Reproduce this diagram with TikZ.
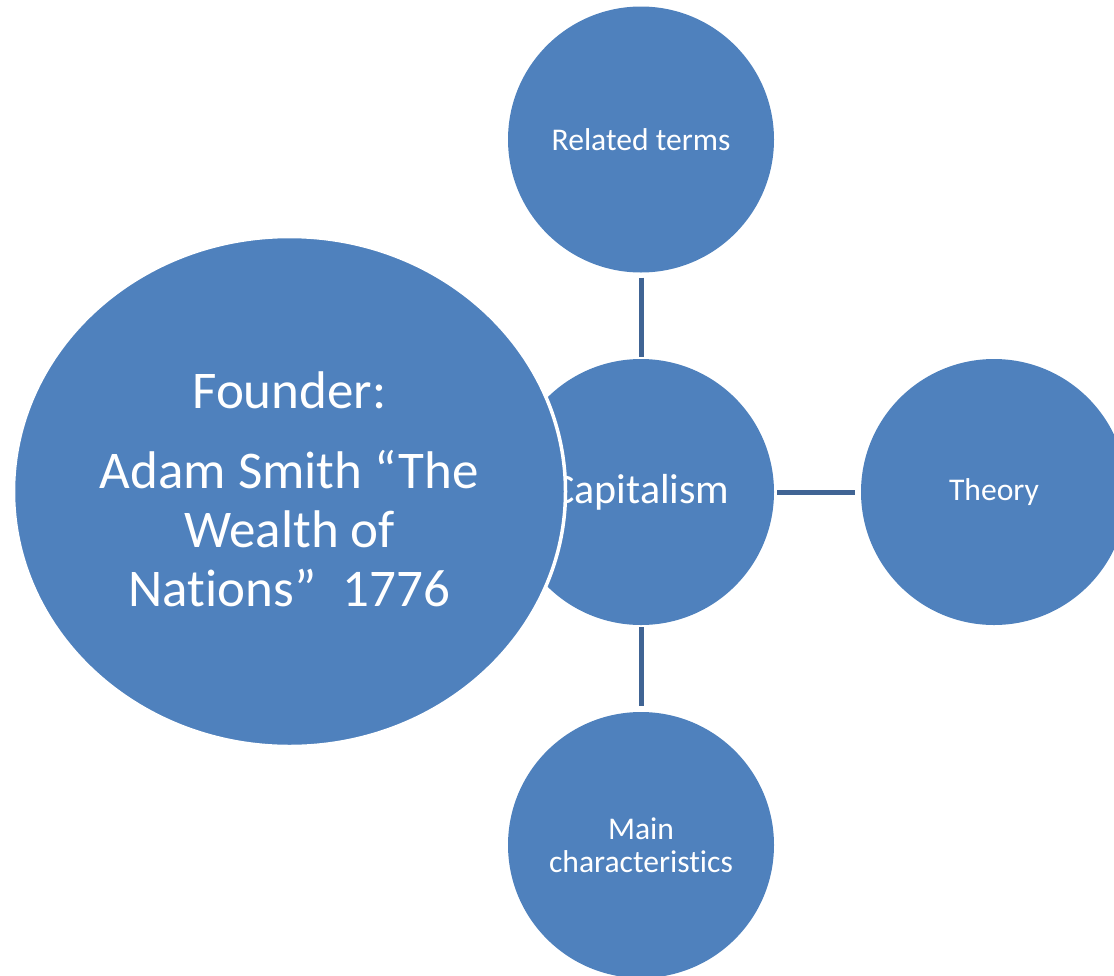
\documentclass[tikz,border=0pt]{standalone}
\usepackage{fontspec}
\setmainfont{Carlito}[Ligatures={NoCommon,NoContextual,NoRequired},Contextuals=NoAlternate]
\usetikzlibrary{shapes.geometric}
\newcommand{\nolig}{\kern0pt }
\definecolor{bubblue}{HTML}{4F81BD}
\definecolor{linkblue}{RGB}{64,100,148}
\tikzset{
  bub/.style={circle, fill=bubblue, draw=none, minimum size=266pt, inner sep=0pt,
    text=white, align=center, font=\fontsize{31.6}{33}\selectfont},
  bigbub/.style={ellipse, fill=bubblue, draw=white, line width=3.5pt,
    minimum width=552pt, minimum height=510pt, inner sep=0pt},
  bigtext/.style={text=white, align=center, inner sep=0pt, font=\fontsize{53}{59}\selectfont},
  link/.style={draw=linkblue, line width=5pt}
}
\begin{document}
\begin{tikzpicture}[x=1pt,y=-1pt]
\useasboundingbox (0,0) rectangle (1114,975);
\node[bub] (rel) at (641,139.5) {Related terms};
\node[bub, font=\fontsize{42}{46}\selectfont] (cap) at (641,492) {Capitalism};
\node[bub] (the) at (994,492) {Theory};
\node[bub] (main) at (641,845) {Main\\characterist\nolig ics};
\node[bigbub] (fnd) at (289.5,491.5) {};
\node[bigtext] (fndtext) at (289.5,489) {Founder:\\[21pt]Adam Smith “The\\Wealth of\\Nat\nolig ions”\hspace{0.5em}1776};
\draw[link, shorten <=5pt, shorten >=2pt] (rel) -- (cap);
\draw[link, shorten <=3pt, shorten >=6pt] (cap) -- (the);
\draw[link, shorten <=2pt, shorten >=6pt] (cap) -- (main);
\end{tikzpicture}
\end{document}
